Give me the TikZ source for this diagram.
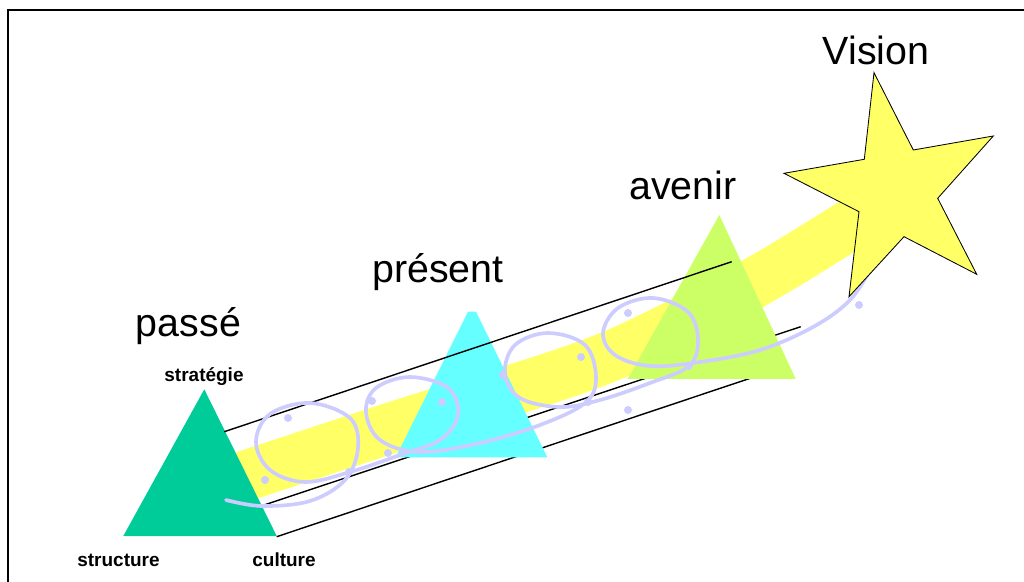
\documentclass[tikz,border=0pt]{standalone}
\usepackage{fontspec}
\setmainfont{Liberation Sans}
\definecolor{passegreen}{RGB}{0,204,153}
\definecolor{presentcyan}{RGB}{102,255,255}
\definecolor{avenirlime}{RGB}{204,255,102}
\definecolor{visionyellow}{RGB}{255,255,102}
\definecolor{spirallav}{RGB}{204,204,255}

\begin{document}
\begin{tikzpicture}[
  x=0.025cm, y=-0.025cm,
  era/.style={anchor=base, inner sep=0pt, font=\fontsize{28}{30}\selectfont},
  corner/.style={anchor=base, inner sep=0pt, font=\bfseries\fontsize{13.5}{15}\selectfont},
  rail/.style={line width=1pt},
  band/.style={visionyellow, line width=36pt, line cap=round},
  spiral/.style={spirallav, line width=2.6pt, line cap=round, line join=round},
  spiraldot/.style={fill=spirallav}
]
  \useasboundingbox (0,0) rectangle (1024,582);
  \draw[line width=1pt] (1024,10) -- (8,10) -- (8,582);

  \draw[band] plot[smooth] coordinates {(242,477) (400,425) (550,378) (620,352) (700,313) (780,268) (848,226)};

  \draw[rail] (264,505) -- (800.7,326.7);
  \draw[rail] (276.7,536.7) -- (760,375);

  \fill[passegreen] (204.3,389.3) -- (276.7,536) -- (123.3,536) -- cycle;
  \fill[presentcyan] (468,311.7) -- (476,311.7) -- (547.3,457.3) -- (395.7,457.3) -- cycle;
  \fill[avenirlime] (719.3,215) -- (795.7,379) -- (627.7,379) -- cycle;

  \draw[rail] (224.3,431.7) -- (731.7,261.7);

  \draw[spiral] plot[smooth, tension=0.6] coordinates {(226,500) (262,506) (310,501) (345,480) (358,448) (350,418) (310,403) (270,414) (256,442) (270,470) (305,482) (350,472) (400,455) (440,440) (458,415) (448,388) (410,377) (376,388) (366,412) (380,440) (420,452) (480,443) (540,425) (585,403) (596,378) (585,345) (548,333) (515,345) (505,373) (520,398) (560,407) (600,400) (650,383) (689,366) (698,340) (688,312) (653,298) (618,308) (603,333) (615,355) (650,366) (700,362) (760,350) (813,327) (850,300) (873,265)};
  \foreach \px/\py in {288/418, 265/480, 349/472, 372/401, 442/402, 388/453, 503/375, 581/357, 588/402, 628/313, 628/410, 689/366, 859/305}
    \fill[spiraldot] (\px,\py) circle (4);

  \filldraw[fill=visionyellow, draw=black, line width=0.6pt] (874,72.7) -- (913.3,150) -- (993.3,136) -- (937.7,198.3) -- (976.7,274.3) -- (904,236.7) -- (849,296.7) -- (859,211.7) -- (784,173.3) -- (864.3,159.3) -- cycle;

  \node[era] (vision) at (876,65) {Vision};
  \node[era] (avenir) at (683,200) {avenir};
  \node[era] (present) at (438,283) {présent};
  \node[era] (passe) at (188.5,337) {passé};
  \node[corner] (strategie) at (204,382) {stratégie};
  \node[corner] (structure) at (118.5,566) {structure};
  \node[corner] (culture) at (284,566) {culture};
\end{tikzpicture}
\end{document}
